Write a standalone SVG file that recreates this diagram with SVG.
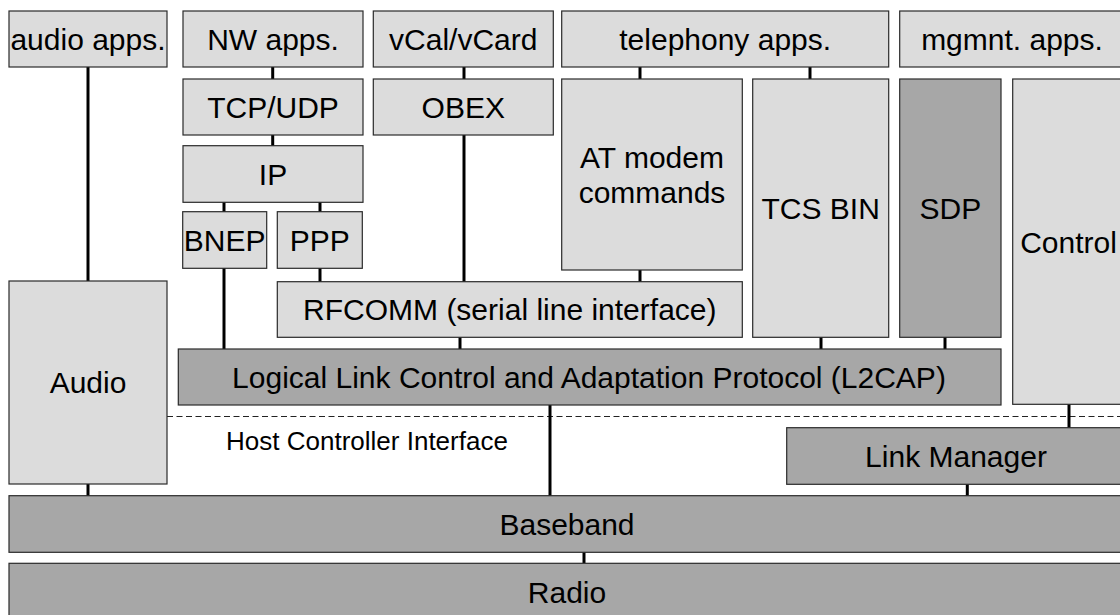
<svg xmlns="http://www.w3.org/2000/svg" width="1120" height="615" viewBox="0 0 1120 615">
  <style>
    .box { stroke: #2a2a2a; stroke-width: 1.2; }
    .light { fill: #dcdcdc; }
    .dark { fill: #a7a7a7; }
    .lbl { font-family: "Liberation Sans", Arial, Helvetica, sans-serif; font-size: 30px; fill: #000; text-anchor: middle; }
    .hci { font-family: "Liberation Sans", Arial, Helvetica, sans-serif; font-size: 26px; fill: #000; text-anchor: middle; }
    .link { stroke: #000; stroke-width: 3; fill: none; }
    .hci-line { stroke: #222; stroke-width: 1; stroke-dasharray: 6 3.5; fill: none; }
  </style>
  <rect width="1120" height="615" fill="#fff"/>

  <!-- host / controller boundary -->
  <line class="hci-line" x1="167" y1="416.5" x2="1125" y2="416.5"/>
  <text class="hci" x="367" y="450">Host Controller Interface</text>

  <!-- connectors between layers -->
  <g id="connectors">
    <line class="link" x1="88" y1="67" x2="88" y2="281"/>
    <line class="link" x1="88" y1="484" x2="88" y2="496"/>
    <line class="link" x1="272.7" y1="67" x2="272.7" y2="79"/>
    <line class="link" x1="272.7" y1="135" x2="272.7" y2="146"/>
    <line class="link" x1="224" y1="202" x2="224" y2="212"/>
    <line class="link" x1="320" y1="202" x2="320" y2="212"/>
    <line class="link" x1="224" y1="268" x2="224" y2="349"/>
    <line class="link" x1="320" y1="268" x2="320" y2="282"/>
    <line class="link" x1="464" y1="67" x2="464" y2="79"/>
    <line class="link" x1="464" y1="135" x2="464" y2="282"/>
    <line class="link" x1="640" y1="67" x2="640" y2="79"/>
    <line class="link" x1="640" y1="270" x2="640" y2="282"/>
    <line class="link" x1="810" y1="67" x2="810" y2="79"/>
    <line class="link" x1="460" y1="337" x2="460" y2="349"/>
    <line class="link" x1="821" y1="337" x2="821" y2="349"/>
    <line class="link" x1="945" y1="337" x2="945" y2="349"/>
    <line class="link" x1="550" y1="405" x2="550" y2="496"/>
    <line class="link" x1="1069" y1="404" x2="1069" y2="428"/>
    <line class="link" x1="967.3" y1="484" x2="967.3" y2="496"/>
    <line class="link" x1="584" y1="552" x2="584" y2="563"/>
  </g>

  <!-- applications -->
  <g id="audio-apps">
    <rect class="box light" x="9" y="11" width="158" height="56"/>
    <text class="lbl" x="88" y="49.7">audio apps.</text>
  </g>
  <g id="nw-apps">
    <rect class="box light" x="183" y="11" width="180" height="56"/>
    <text class="lbl" x="273" y="49.7">NW apps.</text>
  </g>
  <g id="vcal-vcard">
    <rect class="box light" x="373.3" y="11" width="180" height="56"/>
    <text class="lbl" x="463.3" y="49.7">vCal/vCard</text>
  </g>
  <g id="telephony-apps">
    <rect class="box light" x="561.7" y="11" width="327" height="56"/>
    <text class="lbl" x="725.2" y="49.7">telephony apps.</text>
  </g>
  <g id="mgmnt-apps">
    <rect class="box light" x="899.7" y="11" width="225" height="56"/>
    <text class="lbl" x="1012" y="49.7">mgmnt. apps.</text>
  </g>

  <!-- protocols -->
  <g id="tcp-udp">
    <rect class="box light" x="183" y="79" width="180" height="56"/>
    <text class="lbl" x="273" y="117.7">TCP/UDP</text>
  </g>
  <g id="obex">
    <rect class="box light" x="373.3" y="79" width="180" height="56"/>
    <text class="lbl" x="463.3" y="117.7">OBEX</text>
  </g>
  <g id="at-modem">
    <rect class="box light" x="561.7" y="79" width="180.6" height="191"/>
    <text class="lbl" x="652" y="168.3">AT modem</text>
    <text class="lbl" x="652" y="203.3">commands</text>
  </g>
  <g id="tcs-bin">
    <rect class="box light" x="752.7" y="79" width="136" height="258.3"/>
    <text class="lbl" x="820.7" y="218.7">TCS BIN</text>
  </g>
  <g id="sdp">
    <rect class="box dark" x="899.7" y="79" width="101.3" height="258.3"/>
    <text class="lbl" x="950.3" y="218.7">SDP</text>
  </g>
  <g id="control">
    <rect class="box light" x="1012.7" y="79" width="112" height="325.3"/>
    <text class="lbl" x="1068.5" y="252.5">Control</text>
  </g>
  <g id="ip">
    <rect class="box light" x="183" y="145.7" width="180" height="56.6"/>
    <text class="lbl" x="273" y="184.7">IP</text>
  </g>
  <g id="bnep">
    <rect class="box light" x="182.7" y="211.7" width="84" height="56.6"/>
    <text class="lbl" x="224.7" y="250.7">BNEP</text>
  </g>
  <g id="ppp">
    <rect class="box light" x="277.3" y="211.7" width="85" height="56.6"/>
    <text class="lbl" x="319.8" y="250.7">PPP</text>
  </g>
  <g id="audio">
    <rect class="box light" x="9" y="281" width="158" height="203"/>
    <text class="lbl" x="88" y="393.2">Audio</text>
  </g>
  <g id="rfcomm">
    <rect class="box light" x="277.3" y="281.7" width="465" height="55.6"/>
    <text class="lbl" x="509.8" y="320.2">RFCOMM (serial line interface)</text>
  </g>
  <g id="l2cap">
    <rect class="box dark" x="178.3" y="349" width="822.7" height="56"/>
    <text class="lbl" x="589" y="387.7">Logical Link Control and Adaptation Protocol (L2CAP)</text>
  </g>

  <!-- controller side -->
  <g id="link-manager">
    <rect class="box dark" x="786.7" y="427.7" width="338.6" height="56.6"/>
    <text class="lbl" x="956" y="466.7">Link Manager</text>
  </g>
  <g id="baseband">
    <rect class="box dark" x="9" y="495.7" width="1116" height="56.6"/>
    <text class="lbl" x="567" y="534.7">Baseband</text>
  </g>
  <g id="radio">
    <rect class="box dark" x="9" y="563.3" width="1116" height="57"/>
    <text class="lbl" x="567" y="603">Radio</text>
  </g>
</svg>
